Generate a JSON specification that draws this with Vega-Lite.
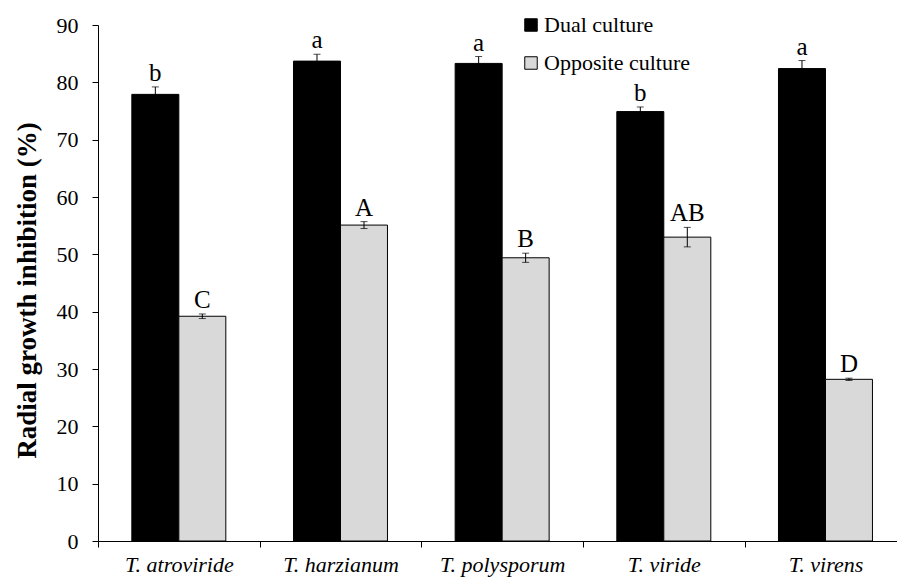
{
  "$schema": "https://vega.github.io/schema/vega-lite/v6.json",
  "autosize": {"type": "none"},
  "padding": {"left": 98, "top": 25, "right": 2, "bottom": 37},
  "width": 797,
  "height": 516,
  "config": {
    "view": {"stroke": null},
    "font": "Liberation Serif",
    "style": {
      "guide-label": {"font": "Liberation Serif", "fill": "#000000"},
      "guide-title": {"font": "Liberation Serif", "fill": "#000000"}
    },
    "axis": {"labelFont": "Liberation Serif", "titleFont": "Liberation Serif", "labelColor": "#000000", "titleColor": "#000000", "domainColor": "#000000", "tickColor": "#000000", "grid": false},
    "legend": {"labelFont": "Liberation Serif", "titleFont": "Liberation Serif"}
  },
  "data": {
    "values": [
      {"species": "T. atroviride", "method": "Dual culture", "value": 77.9, "lo": 76.6, "hi": 79.2, "letter": "b"},
      {"species": "T. atroviride", "method": "Opposite culture", "value": 39.2, "lo": 38.8, "hi": 39.6, "letter": "C"},
      {"species": "T. harzianum", "method": "Dual culture", "value": 83.7, "lo": 82.5, "hi": 84.9, "letter": "a"},
      {"species": "T. harzianum", "method": "Opposite culture", "value": 55.1, "lo": 54.5, "hi": 55.7, "letter": "A"},
      {"species": "T. polysporum", "method": "Dual culture", "value": 83.3, "lo": 82.1, "hi": 84.5, "letter": "a"},
      {"species": "T. polysporum", "method": "Opposite culture", "value": 49.4, "lo": 48.6, "hi": 50.2, "letter": "B"},
      {"species": "T. viride", "method": "Dual culture", "value": 74.9, "lo": 74.1, "hi": 75.7, "letter": "b"},
      {"species": "T. viride", "method": "Opposite culture", "value": 53.0, "lo": 51.3, "hi": 54.7, "letter": "AB"},
      {"species": "T. virens", "method": "Dual culture", "value": 82.4, "lo": 81.0, "hi": 83.8, "letter": "a"},
      {"species": "T. virens", "method": "Opposite culture", "value": 28.2, "lo": 28.0, "hi": 28.4, "letter": "D"}
    ]
  },
  "encoding": {
    "x": {
      "field": "species", "type": "nominal", "sort": null,
      "scale": {"range": [0, 808.3], "paddingInner": 0, "paddingOuter": 0},
      "axis": {"title": null, "labelAngle": 0, "labelFont": "Liberation Serif", "labelFontSize": 22, "labelFontStyle": "italic", "tickBand": "extent", "tickSize": 6, "labelPadding": 7, "domainWidth": 1, "labelBaseline": "top"}
    },
    "xOffset": {"field": "method", "type": "nominal", "scale": {"paddingOuter": 0.72, "paddingInner": 0}}
  },
  "layer": [
    {
      "mark": {"type": "bar", "stroke": "#000000", "strokeWidth": 1},
      "encoding": {
        "y": {
          "field": "value", "type": "quantitative",
          "scale": {"domain": [0, 90], "nice": false},
          "axis": {"values": [0, 10, 20, 30, 40, 50, 60, 70, 80, 90], "labelFont": "Liberation Serif", "labelFontSize": 22, "tickSize": 6, "labelPadding": 14, "title": "Radial growth inhibition (%)", "titleFont": "Liberation Serif", "titleFontSize": 27, "titleFontWeight": "bold", "titleAngle": -90, "titleX": -63, "titleY": 265, "titleAlign": "center", "titleBaseline": "alphabetic"}
        },
        "color": {
          "field": "method", "type": "nominal",
          "scale": {"domain": ["Dual culture", "Opposite culture"], "range": ["#000000", "#d9d9d9"]},
          "legend": {"title": null, "orient": "none", "legendX": 422, "legendY": -11, "symbolType": "square", "symbolSize": 156, "symbolStrokeColor": "#000000", "symbolStrokeWidth": 1, "labelFontSize": 22, "labelFont": "Liberation Serif", "labelColor": "#000000", "labelOffset": 2, "rowPadding": 16, "padding": 0}
        }
      }
    },
    {
      "mark": {"type": "rule", "color": "#000000", "strokeWidth": 1},
      "encoding": {"y": {"field": "lo", "type": "quantitative"}, "y2": {"field": "hi"}}
    },
    {
      "mark": {"type": "tick", "color": "#000000", "orient": "horizontal", "size": 7, "thickness": 1},
      "encoding": {"y": {"field": "lo", "type": "quantitative"}}
    },
    {
      "mark": {"type": "tick", "color": "#000000", "orient": "horizontal", "size": 7, "thickness": 1},
      "encoding": {"y": {"field": "hi", "type": "quantitative"}}
    },
    {
      "mark": {"type": "text", "fontSize": 25, "font": "Liberation Serif", "color": "#000000", "baseline": "alphabetic", "dy": -6},
      "encoding": {"y": {"field": "hi", "type": "quantitative"}, "text": {"field": "letter"}}
    }
  ]
}
